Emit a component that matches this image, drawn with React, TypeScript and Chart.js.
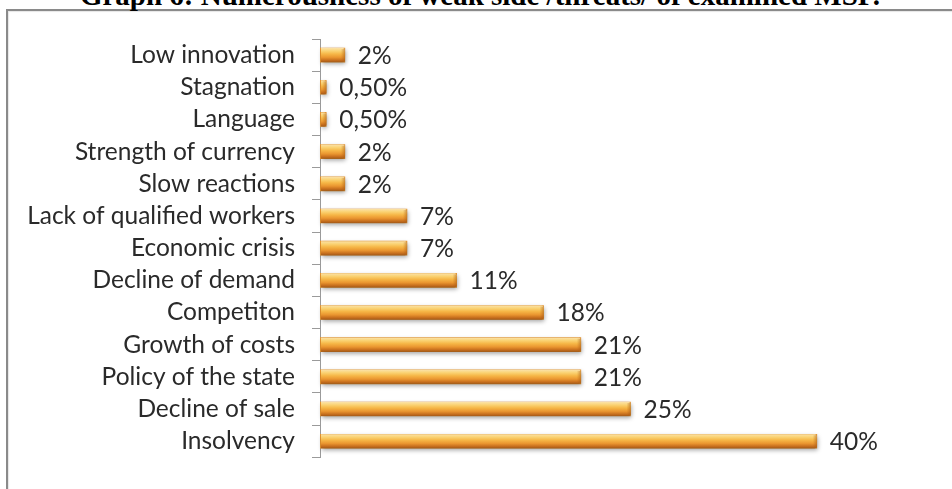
import { useEffect, useRef } from "react";
import { Chart, registerables } from "chart.js";

Chart.register(...registerables);

const titleText = "Graph 6: Numerousness of weak side /threats/ of examined MSP.";

const categories = [
  "Low innovation",
  "Stagnation",
  "Language",
  "Strength of currency",
  "Slow reactions",
  "Lack of qualified workers",
  "Economic crisis",
  "Decline of demand",
  "Competiton",
  "Growth of costs",
  "Policy of the state",
  "Decline of sale",
  "Insolvency",
];

const values = [2, 0.5, 0.5, 2, 2, 7, 7, 11, 18, 21, 21, 25, 40];

const valueLabels = ["2%", "0,50%", "0,50%", "2%", "2%", "7%", "7%", "11%", "18%", "21%", "21%", "25%", "40%"];

const FONT = "Lato";
const FONT_SIZE = 24.5;
const TEXT_COLOR = "#2a2a2a";

const barStyle = {
  id: "barStyle",
  afterDatasetsDraw(chart: any) {
    const ctx: CanvasRenderingContext2D = chart.ctx;
    const meta = chart.getDatasetMeta(0);
    meta.data.forEach((el: any, i: number) => {
      const { x, y, base, height } = el.getProps(["x", "y", "base", "height"], true);
      const top = y - height / 2;
      const bot = y + height / 2;
      const left = base + 1;
      const right = x;
      const w = right - left;
      ctx.save();
      ctx.shadowColor = "rgba(0,0,0,0.35)";
      ctx.shadowBlur = 4;
      ctx.shadowOffsetX = 1;
      ctx.shadowOffsetY = 2;
      const g = ctx.createLinearGradient(0, top, 0, bot);
      g.addColorStop(0, "#fbe2a8");
      g.addColorStop(0.2, "#fad374");
      g.addColorStop(0.42, "#f6b747");
      g.addColorStop(0.66, "#ea9630");
      g.addColorStop(0.86, "#c8701e");
      g.addColorStop(1, "#a55a18");
      ctx.fillStyle = g;
      ctx.beginPath();
      const r = Math.min(2, w / 2);
      ctx.moveTo(left, top);
      ctx.lineTo(right - r, top);
      ctx.quadraticCurveTo(right, top, right, top + r);
      ctx.lineTo(right, bot - r);
      ctx.quadraticCurveTo(right, bot, right - r, bot);
      ctx.lineTo(left, bot);
      ctx.closePath();
      ctx.fill();
      ctx.restore();
      if (w > 4) {
        ctx.save();
        const cg = ctx.createLinearGradient(right - 4, 0, right, 0);
        cg.addColorStop(0, "rgba(180,100,20,0)");
        cg.addColorStop(1, "rgba(170,90,20,0.55)");
        ctx.fillStyle = cg;
        ctx.fillRect(right - 4, top + 1, 4, height - 2);
        ctx.restore();
      }
      ctx.save();
      ctx.font = `${FONT_SIZE}px ${FONT}`;
      ctx.fillStyle = TEXT_COLOR;
      ctx.textAlign = "left";
      ctx.textBaseline = "middle";
      ctx.fillText(valueLabels[i], right + 13, y + 1);
      ctx.restore();
    });
  },
};

export default function App() {
  const ref = useRef<HTMLCanvasElement>(null);

  useEffect(() => {
    let chart: Chart | null = null;
    let cancelled = false;
    const make = () => {
      if (cancelled || !ref.current) return;
      chart = new Chart(ref.current, {
        type: "bar",
        data: {
          labels: categories,
          datasets: [
            {
              data: values,
              backgroundColor: "#e9962f",
              borderWidth: 0,
              barThickness: 14,
            },
          ],
        },
        options: {
          indexAxis: "y",
          responsive: false,
          animation: false,
          events: [],
          layout: { padding: { left: 0, top: 39, bottom: 23, right: 11 } },
          plugins: {
            legend: { display: false },
            tooltip: { enabled: false },
            title: { display: false },
          },
          scales: {
            x: { display: false, min: 0, max: 50 },
            y: {
              afterFit: (s: any) => {
                s.width = 320;
              },
              grid: {
                display: true,
                drawOnChartArea: false,
                drawTicks: true,
                tickLength: 8,
                offset: true,
                color: "#9a9a9a",
              },
              border: { display: true, color: "#9a9a9a", width: 1 },
              ticks: {
                padding: 17,
                color: TEXT_COLOR,
                font: { family: FONT, size: FONT_SIZE },
                autoSkip: false,
              },
            },
          },
        },
        plugins: [barStyle],
      });
    };
    const p = (document as any).fonts ? (document as any).fonts.load(`${FONT_SIZE}px ${FONT}`) : Promise.resolve();
    p.then(make, make);
    return () => {
      cancelled = true;
      if (chart) chart.destroy();
    };
  }, []);

  return (
    <div style={{ position: "fixed", left: 0, top: 0, width: 952, height: 489, overflow: "hidden", background: "#fff" }}>
      <div
        style={{
          position: "absolute",
          left: 6,
          top: 9,
          width: 2000,
          height: 2000,
          borderLeft: "2px solid #8a8a8a",
          borderTop: "2px solid #8a8a8a",
          boxShadow: "inset 1px 1px 1px rgba(0,0,0,0.1)",
        }}
      />
      <div
        style={{
          position: "absolute",
          left: 0,
          width: 960,
          top: -19,
          textAlign: "center",
          fontFamily: "'Liberation Serif', serif",
          fontWeight: "bold",
          fontSize: 29,
          lineHeight: "29px",
          whiteSpace: "nowrap",
          color: "#000",
        }}
      >
        {titleText}
      </div>
      <canvas ref={ref} width={952} height={489} style={{ position: "absolute", left: 0, top: 0 }} />
    </div>
  );
}
